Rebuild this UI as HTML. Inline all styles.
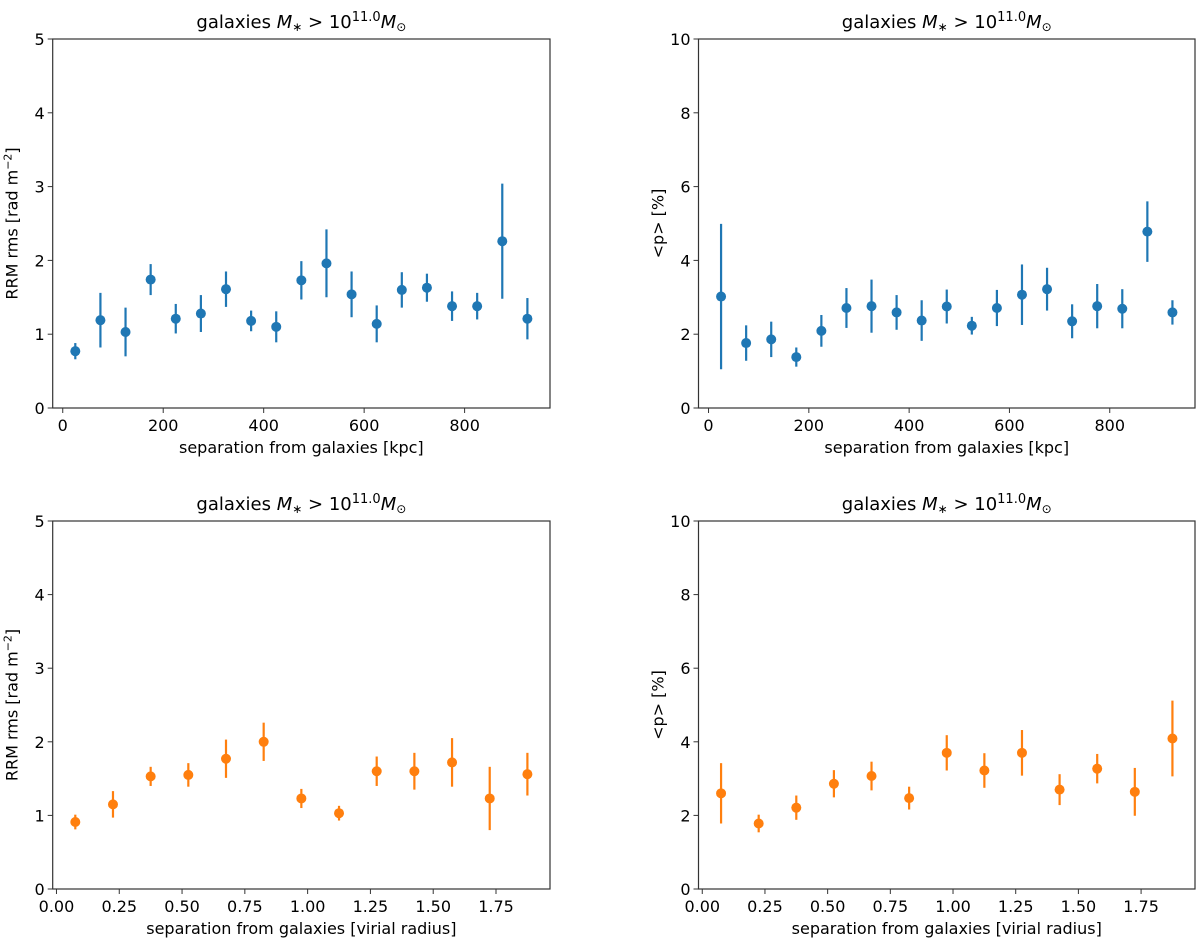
<!DOCTYPE html>
<html><head><meta charset="utf-8"><style>
body{margin:0;background:#fff}
svg{display:block;font-family:"DejaVu Sans","Liberation Sans",sans-serif}
</style></head><body>
<svg id="fig" width="1200" height="944"></svg>
<script>
const kpcX = [25,75,125,175,225,275,325,375,425,475,525,575,625,675,725,775,825,875,925];
const rrmKpc = [0.77,1.19,1.03,1.74,1.21,1.28,1.61,1.18,1.10,1.73,1.96,1.54,1.14,1.60,1.63,1.38,1.38,2.26,1.21];
const rrmKpcErr = [0.11,0.37,0.33,0.21,0.20,0.25,0.24,0.14,0.21,0.26,0.46,0.31,0.25,0.24,0.19,0.20,0.18,0.78,0.28];
const pKpc = [3.02,1.76,1.86,1.38,2.09,2.71,2.76,2.59,2.37,2.75,2.23,2.71,3.07,3.22,2.35,2.76,2.69,4.78,2.59];
const pKpcErr = [1.97,0.48,0.48,0.26,0.43,0.54,0.72,0.47,0.55,0.46,0.24,0.49,0.82,0.58,0.46,0.60,0.53,0.82,0.33];
const virX = [0.075,0.225,0.375,0.525,0.675,0.825,0.975,1.125,1.275,1.425,1.575,1.725,1.875];
const rrmVir = [0.91,1.15,1.53,1.55,1.77,2.00,1.23,1.03,1.60,1.60,1.72,1.23,1.56];
const rrmVirErr = [0.10,0.18,0.13,0.16,0.26,0.26,0.13,0.10,0.20,0.25,0.33,0.43,0.29];
const pVir = [2.60,1.78,2.21,2.86,3.07,2.47,3.70,3.22,3.70,2.70,3.27,2.64,4.09];
const pVirErr = [0.82,0.24,0.33,0.37,0.39,0.31,0.48,0.47,0.62,0.42,0.40,0.65,1.03];
const kpcTicks = [0,200,400,600,800];
const kpcTickLabels = ["0","200","400","600","800"];
const virTicks = [0,0.25,0.5,0.75,1.0,1.25,1.5,1.75];
const virTickLabels = ["0.00","0.25","0.50","0.75","1.00","1.25","1.50","1.75"];
const rrmTicks = [0,1,2,3,4,5];
const pTicks = [0,2,4,6,8,10];

const NS="http://www.w3.org/2000/svg";
const svg=document.getElementById('fig');
function el(tag,attrs,parent,text){
  const e=document.createElementNS(NS,tag);
  for(const k in attrs)e.setAttribute(k,attrs[k]);
  if(text!==undefined)e.textContent=text;
  (parent||svg).appendChild(e);return e;
}
function panel(o){
  const g=el('g',{});
  
  
  const sx=v=>o.L+(v-o.xmin)/(o.xmax-o.xmin)*(o.R-o.L);
  const sy=v=>o.B-(v-o.ymin)/(o.ymax-o.ymin)*(o.B-o.T);
  const t=el('text',{x:(o.L+o.R)/2,y:o.T-11,'text-anchor':'middle','font-size':18},g);
  
  
  el('tspan',{},t,'galaxies ');
  el('tspan',{'font-style':'italic'},t,'M');
  el('tspan',{dy:3,'font-size':12},t,'∗');
  el('tspan',{dy:-3},t,' > 10');
  el('tspan',{dy:-7,'font-size':13},t,'11.0');
  el('tspan',{dy:7,'font-style':'italic'},t,'M');
  el('tspan',{dy:3,'font-size':12},t,'⊙');
  o.xt.forEach((v,i)=>{
    const x=sx(v);
    const tk=el('line',{x1:x,x2:x,y1:o.B,y2:o.B+5,stroke:'#333','stroke-width':1},g);
    
    
    const lb=el('text',{x:x,y:o.B+23,'text-anchor':'middle','font-size':16,'font-weight':500},g,o.xl[i]);
    
    
  });
  o.yt.forEach(v=>{
    const y=sy(v);
    const tk=el('line',{x1:o.L-5,x2:o.L,y1:y,y2:y,stroke:'#333','stroke-width':1},g);
    
    
    const lb=el('text',{x:o.L-8,y:y+6,'text-anchor':'end','font-size':16,'font-weight':500},g,String(v));
    
    
  });
  const xt=el('text',{x:(o.L+o.R)/2,y:o.B+45,'text-anchor':'middle','font-size':16,'font-weight':500},g,o.xlabel);
  
  
  const yx=o.L-35, yy=(o.T+o.B)/2;
  const yt=el('text',{x:yx,y:yy,'text-anchor':'middle','font-size':16,'font-weight':500,transform:`rotate(-90 ${yx} ${yy})`},g);
  
  
  if(o.rrm){el('tspan',{},yt,'RRM rms [rad m');el('tspan',{dy:-6,'font-size':11},yt,'−2');el('tspan',{dy:6},yt,']');}
  else yt.textContent='<p> [%]';
  o.x.forEach((xv,i)=>{
    const x=sx(xv);
    const eb=el('line',{x1:x,x2:x,y1:sy(o.y[i]-o.e[i]),y2:sy(o.y[i]+o.e[i]),stroke:o.c,'stroke-width':2.2},g);
    
    
    const p=el('circle',{cx:x,cy:sy(o.y[i]),r:5,fill:o.c},g);
    
    
  });
  const fr=el('rect',{x:o.L,y:o.T,width:o.R-o.L,height:o.B-o.T,fill:'none',stroke:'#333','stroke-width':1.2},g);
  
  
}
const KX={xmin:-20,xmax:970,xt:kpcTicks,xl:kpcTickLabels,xlabel:'separation from galaxies [kpc]'};
const VX={xmin:-0.015,xmax:1.965,xt:virTicks,xl:virTickLabels,xlabel:'separation from galaxies [virial radius]'};
panel(Object.assign({name:'panel-rrm-kpc',L:52.7,R:550,T:39,B:408,ymin:0,ymax:5,yt:rrmTicks,rrm:true,x:kpcX,y:rrmKpc,e:rrmKpcErr,c:'#1f77b4'},KX));
panel(Object.assign({name:'panel-p-kpc',L:698.5,R:1195,T:39,B:408,ymin:0,ymax:10,yt:pTicks,rrm:false,x:kpcX,y:pKpc,e:pKpcErr,c:'#1f77b4'},KX));
panel(Object.assign({name:'panel-rrm-virial',L:52.7,R:550,T:521,B:889,ymin:0,ymax:5,yt:rrmTicks,rrm:true,x:virX,y:rrmVir,e:rrmVirErr,c:'#ff7f0e'},VX));
panel(Object.assign({name:'panel-p-virial',L:698.5,R:1195,T:521,B:889,ymin:0,ymax:10,yt:pTicks,rrm:false,x:virX,y:pVir,e:pVirErr,c:'#ff7f0e'},VX));
</script>
</body></html>
